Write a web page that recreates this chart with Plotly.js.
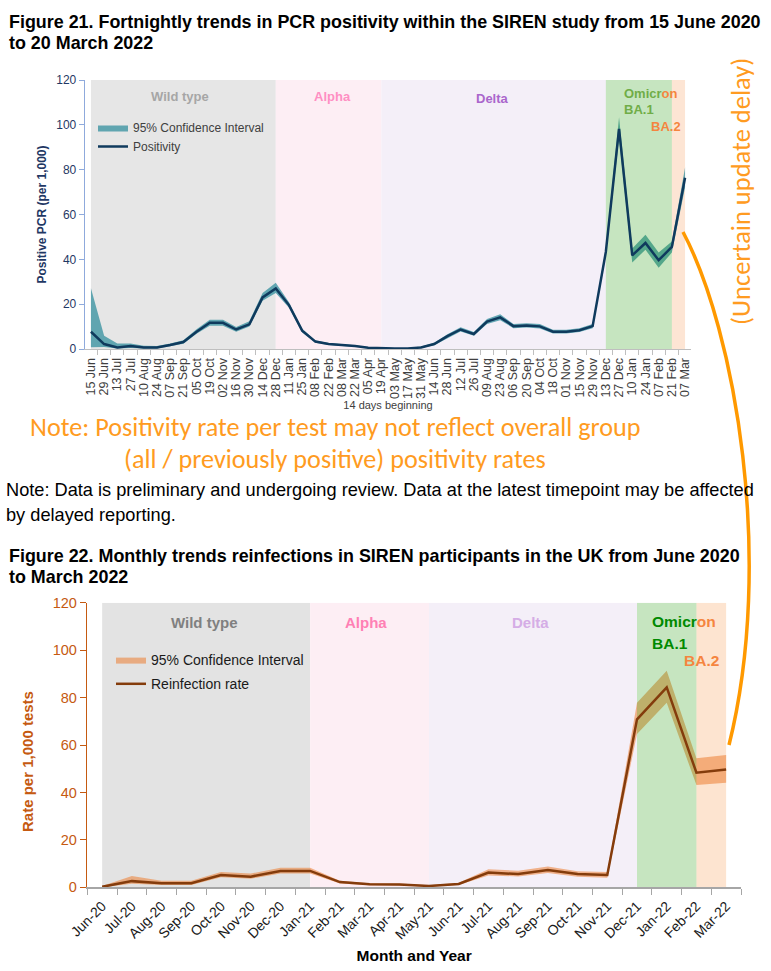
<!DOCTYPE html>
<html><head><meta charset="utf-8">
<script src="https://cdn.plot.ly/plotly-3.0.1.min.js"></script>
<style>html,body{margin:0;padding:0;background:#fff;} #chart{width:771px;height:971px;}</style>
</head><body><div id="chart"></div>
<script>
// ---------- Figure 21 data (fortnightly PCR positivity, per 1,000) ----------
const fortnightLabels = ['15 Jun','29 Jun','13 Jul','27 Jul','10 Aug','24 Aug','07 Sep','21 Sep','05 Oct','19 Oct','02 Nov','16 Nov','30 Nov','14 Dec','28 Dec',
  '11 Jan','25 Jan','08 Feb','22 Feb','08 Mar','22 Mar','05 Apr','19 Apr','03 May','17 May','31 May','14 Jun','28 Jun','12 Jul','26 Jul','09 Aug','23 Aug','06 Sep','20 Sep','04 Oct','18 Oct','01 Nov','15 Nov','29 Nov','13 Dec','27 Dec',
  '10 Jan','24 Jan','07 Feb','21 Feb','07 Mar'];
const positivity = [7.7,2.2,0.7,1.3,0.7,0.7,1.8,3.1,7.7,11.7,11.7,8.7,11.0,23.0,27.0,
  19.6,8.2,3.3,2.2,1.8,1.3,0.6,0.3,0.2,0.2,0.7,2.2,5.7,8.7,6.7,12.2,14.1,10.2,10.5,10.1,7.7,7.7,8.4,10.2,43.3,98.2,
  41.8,47.3,39.6,45.5,76.4];
const positivityLower = [0.8,0.9,0.2,0.5,0.2,0.2,1.2,2.3,6.8,10.4,10.4,7.7,10.0,21.5,25.0,
  18.4,7.4,2.8,1.8,1.4,1.0,0.4,0.1,0.1,0.1,0.4,1.7,4.9,7.8,5.9,11.1,12.8,9.3,9.6,9.2,6.9,6.9,7.6,9.3,41.6,94.0,
  38.6,44.3,36.3,43.0,72.0];
const positivityUpper = [27.1,5.9,2.5,2.5,1.5,1.3,2.5,3.9,8.8,13.0,13.0,9.8,12.4,25.0,29.5,
  20.8,9.0,3.8,2.7,2.3,1.7,0.9,0.6,0.4,0.4,1.1,2.8,6.6,9.7,7.6,13.4,15.5,11.2,11.5,11.1,8.6,8.6,9.3,11.2,45.0,103.4,
  44.8,51.0,43.0,48.0,81.0];
const fortnightVariantBounds = ['15 Jun','28 Dec','19 Apr','13 Dec','21 Feb','07 Mar'];

// ---------- Figure 22 data (monthly reinfection rate, per 1,000 tests) ----------
const monthLabels = ['Jun-20','Jul-20','Aug-20','Sep-20','Oct-20','Nov-20','Dec-20','Jan-21','Feb-21','Mar-21','Apr-21','May-21',
  'Jun-21','Jul-21','Aug-21','Sep-21','Oct-21','Nov-21','Dec-21','Jan-22','Feb-22','Mar-22'];
const reinfectionRate = [0.2,2.6,1.7,1.7,5.2,4.5,6.9,6.9,2.2,1.3,1.2,0.6,1.4,6.2,5.6,7.3,5.6,5.2,70.8,84.3,48.3,49.7];
const reinfectionLower = [0.0,1.5,1.0,1.0,4.2,3.6,5.8,5.8,1.6,0.9,0.8,0.3,1.0,5.0,4.6,6.0,4.5,4.0,64.6,77.8,43.1,44.1];
const reinfectionUpper = [0.6,4.8,2.8,2.8,6.5,5.8,8.2,8.2,2.8,1.7,1.6,0.9,1.9,7.6,7.0,8.8,6.8,6.5,77.8,91.3,54.4,55.8];
const monthVariantBounds = ['Jun-20','Jan-21','May-21','Dec-21','Feb-22','Mar-22'];

const variantNames = ['Wild type','Alpha','Delta','Omicron BA.1','BA.2'];

// ---------- styles ----------
const W = 771, H = 971;
const PX = v => v / W, PY = v => 1 - v / H;
const ARIAL = '"Liberation Sans", Arial, sans-serif';
const NARROW = '"Liberation Sans Narrow", "Liberation Sans", Arial, sans-serif';
const CALIBRI = 'Carlito, "Liberation Sans Narrow", Lato, sans-serif';
const Y_MAX = 120;
const topBandColors = ['#e6e6e6','#fdeef4','#f4eff8',null,'#fde5d4'];
const botBandColors = ['#e3e3e3','#fdeef4','#f4eff8',null,'#fde4d0'];
const omicronTint = 'rgba(27,150,5,0.25)';
const OMICRON = variantNames.indexOf('Omicron BA.1');

const xi = fortnightLabels.map((_, i) => i);
const mi = monthLabels.map((_, i) => i);
const topBounds = fortnightVariantBounds.map(l => fortnightLabels.indexOf(l));
const botBounds = monthVariantBounds.map(l => monthLabels.indexOf(l));

function tintTrace(bounds, xa, ya) {
  const s = bounds[OMICRON], e = bounds[OMICRON + 1];
  return {x:[s,e,e,s,s], y:[0,0,Y_MAX,Y_MAX,0], xaxis:xa, yaxis:ya, mode:'none', fill:'toself',
          fillcolor:omicronTint, showlegend:false, hoverinfo:'skip'};
}

const traces = [
  {x:xi, y:positivityLower, xaxis:'x', yaxis:'y', mode:'lines', line:{width:0}, showlegend:false, hoverinfo:'skip'},
  {x:xi, y:positivityUpper, xaxis:'x', yaxis:'y', mode:'lines', line:{width:0}, fill:'tonexty',
   fillcolor:'rgba(45,140,155,0.72)', name:'95% Confidence Interval', legend:'legend'},
  tintTrace(topBounds, 'x', 'y'),
  {x:xi, y:positivity, xaxis:'x', yaxis:'y', mode:'lines', line:{color:'#0f3a5d', width:2.5}, name:'Positivity', legend:'legend'},

  {x:mi, y:reinfectionLower, xaxis:'x2', yaxis:'y2', mode:'lines', line:{width:0}, showlegend:false, hoverinfo:'skip'},
  {x:mi, y:reinfectionUpper, xaxis:'x2', yaxis:'y2', mode:'lines', line:{width:0}, fill:'tonexty',
   fillcolor:'rgba(237,125,49,0.55)', name:'95% Confidence Interval', legend:'legend2', legendgroup:'ci2'},
  tintTrace(botBounds, 'x2', 'y2'),
  {x:mi, y:reinfectionRate, xaxis:'x2', yaxis:'y2', mode:'lines', line:{color:'#843c0c', width:2.5}, name:'Reinfection rate', legend:'legend2', legendgroup:'rate2'}
];

const shapes = [];
variantNames.forEach((v, k) => {
  if (topBandColors[k]) shapes.push({type:'rect', xref:'x', yref:'y', x0:topBounds[k], x1:topBounds[k+1], y0:0, y1:Y_MAX,
    fillcolor:topBandColors[k], line:{width:0}, layer:'below'});
  if (botBandColors[k]) shapes.push({type:'rect', xref:'x2', yref:'y2', x0:botBounds[k], x1:botBounds[k+1], y0:0, y1:Y_MAX,
    fillcolor:botBandColors[k], line:{width:0}, layer:'below'});
});
// orange hand-drawn connector arc
shapes.push({type:'path', xref:'paper', yref:'paper',
  path:`M ${PX(683)},${PY(232)} C ${PX(735)},${PY(330)} ${PX(775)},${PY(560)} ${PX(729)},${PY(745)}`,
  line:{color:'#ff9900', width:3.5}, fillcolor:'rgba(0,0,0,0)'});

function ann(text, x, y, size, color, opts) {
  const o = Object.assign({text, xref:'paper', yref:'paper', x:PX(x), y:PY(y), xanchor:'center', yanchor:'middle',
    showarrow:false, font:{family:ARIAL, size, color}}, opts || {});
  if (opts && opts.family) { o.font.family = opts.family; delete o.family; }
  return o;
}
const OR = '#f5853f';
const ORANGE_NOTE = '#ff9b21';
const annotations = [
  ann('<b>Figure 21. Fortnightly trends in PCR positivity within the SIREN study from 15 June 2020</b>', 7, 22, 17.9, '#000', {xanchor:'left', family:NARROW}),
  ann('<b>to 20 March 2022</b>', 7, 43, 17.9, '#000', {xanchor:'left', family:NARROW}),
  ann('<b>Figure 22. Monthly trends reinfections in SIREN participants in the UK from June 2020</b>', 7, 556, 17.9, '#000', {xanchor:'left', family:NARROW}),
  ann('<b>to March 2022</b>', 7, 577, 17.9, '#000', {xanchor:'left', family:NARROW}),
  ann('Note: Data is preliminary and undergoing review. Data at the latest timepoint may be affected', 4, 490, 18.2, '#000', {xanchor:'left', family:NARROW}),
  ann('by delayed reporting.', 4, 515, 18.2, '#000', {xanchor:'left', family:NARROW}),
  ann('Note: Positivity rate per test may not reflect overall group', 335, 427, 26.2, ORANGE_NOTE, {family:CALIBRI}),
  ann('(all / previously positive) positivity rates', 335, 459, 26.2, ORANGE_NOTE, {family:CALIBRI}),
  ann('(Uncertain update delay)', 741, 192, 26.5, ORANGE_NOTE, {textangle:-90, family:CALIBRI}),
  // band labels, Figure 21
  ann('<b>Wild type</b>', 180, 97, 13, '#a6a6a6'),
  ann('<b>Alpha</b>', 332, 97, 13, '#ff8fc3'),
  ann('<b>Delta</b>', 493, 98, 13, '#aa66cc'),
  ann('<b><span style="color:#70ad47">Omicr</span><span style="color:'+OR+'">on</span></b>', 622, 94, 13, '#70ad47', {xanchor:'left'}),
  ann('<b>BA.1</b>', 622, 109, 13, '#70ad47', {xanchor:'left'}),
  ann('<b>BA.2</b>', 683, 126, 13, OR, {xanchor:'right'}),
  // band labels, Figure 22
  ann('<b>Wild type</b>', 204, 622, 15, '#808080'),
  ann('<b>Alpha</b>', 366, 622, 15, '#ff80b4'),
  ann('<b>Delta</b>', 530, 622, 15, '#d5ade6'),
  ann('<b><span style="color:#008a00">Omicr</span><span style="color:'+OR+'">on</span></b>', 650, 621, 15.5, '#008a00', {xanchor:'left'}),
  ann('<b>BA.1</b>', 650, 643, 15.5, '#008a00', {xanchor:'left'}),
  ann('<b>BA.2</b>', 721, 660, 15.5, OR, {xanchor:'right'}),
  // y title Figure 22
  ann('<b>Rate per 1,000 tests</b>', 27, 762, 15, '#c55a11', {textangle:-90})
];

const layout = {
  width:W, height:H, margin:{l:0,r:0,t:0,b:0}, paper_bgcolor:'#fff', plot_bgcolor:'rgba(0,0,0,0)',
  xaxis:{domain:[PX(85),PX(691)], anchor:'y', range:[-0.45,45.45], tickmode:'array', tickvals:xi, ticktext:fortnightLabels,
    tickangle:-90, ticks:'', showline:true, linecolor:'#bfbfbf', linewidth:1, showgrid:false, zeroline:false,
    tickfont:{family:ARIAL, size:12.5, color:'#404040'}, ticklabelstandoff:3,
    minor:{tickmode:'linear', tick0:-0.5, dtick:1, ticks:'outside', ticklen:5, tickcolor:'#bfbfbf', showgrid:false},
    title:{text:'14 days beginning', font:{family:ARIAL, size:11, color:'#404040'}, standoff:2}},
  yaxis:{domain:[PY(349),PY(80)], anchor:'x', range:[0,Y_MAX], tick0:0, dtick:20, ticks:'outside', ticklen:5,
    tickcolor:'#8faadc', showline:true, linecolor:'#8faadc', linewidth:1.3, showgrid:false, zeroline:false,
    tickfont:{family:ARIAL, size:12, color:'#1f3864'},
    title:{text:'<b>Positive PCR (per 1,000)</b>', font:{family:ARIAL, size:12, color:'#1f3864'}, standoff:7}},
  xaxis2:{domain:[PX(87.3),PX(741)], anchor:'y2', range:[-0.5,21.5], tickmode:'array', tickvals:mi, ticktext:monthLabels,
    tickangle:-45, ticks:'', showline:true, linecolor:'#a6a6a6', linewidth:1.3, showgrid:false, zeroline:false,
    tickfont:{family:ARIAL, size:14, color:'#1a1a1a'}, ticklabelstandoff:4,
    minor:{tickmode:'linear', tick0:-0.5, dtick:1, ticks:'outside', ticklen:6, tickcolor:'#a6a6a6', showgrid:false},
    title:{text:'<b>Month and Year</b>', font:{family:ARIAL, size:15.5, color:'#000'}, standoff:8}},
  yaxis2:{domain:[PY(887.3),PY(602.7)], anchor:'x2', range:[0,Y_MAX], tick0:0, dtick:20, ticks:'outside', ticklen:6,
    tickcolor:'#c55a11', showline:true, linecolor:'#c55a11', linewidth:1.5, showgrid:false, zeroline:false,
    tickfont:{family:ARIAL, size:14.5, color:'#c55a11'}},
  legend:{x:PX(93), y:PY(113), xanchor:'left', yanchor:'top', bgcolor:'rgba(0,0,0,0)', itemwidth:30, traceorder:'normal',
    font:{family:ARIAL, size:12, color:'#404040'}},
  legend2:{x:PX(111), y:PY(644), xanchor:'left', yanchor:'top', bgcolor:'rgba(0,0,0,0)', itemwidth:30, traceorder:'grouped',
    tracegroupgap:3, font:{family:ARIAL, size:14, color:'#1a1a1a'}},
  shapes, annotations
};

Plotly.newPlot('chart', traces, layout, {displayModeBar:false, staticPlot:true});
</script></body></html>
